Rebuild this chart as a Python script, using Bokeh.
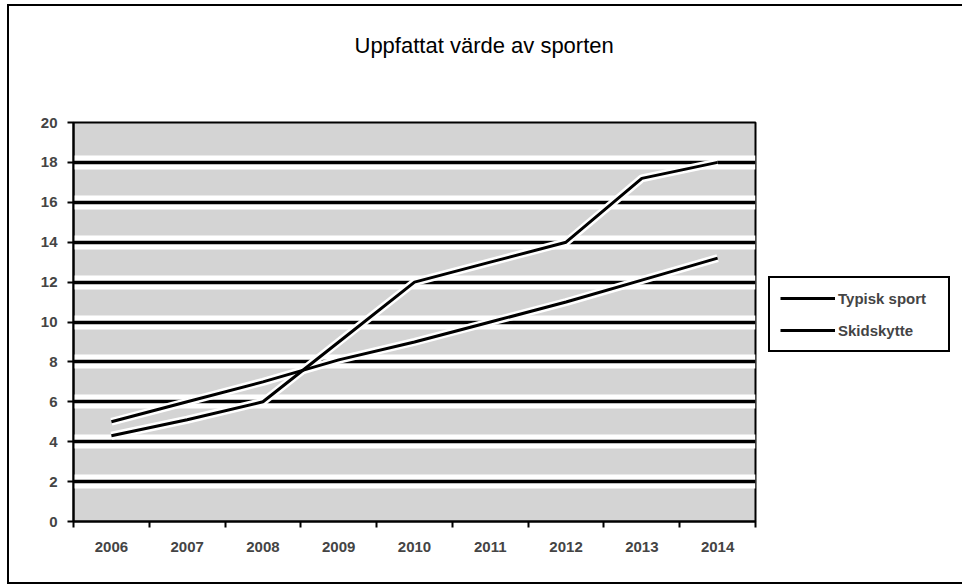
from bokeh.plotting import figure
from bokeh.embed import file_html
from bokeh.resources import INLINE
from bokeh.models import Range1d, FixedTicker, SingleIntervalTicker, Grid, Legend, LegendItem, Title

# ---- data ----
years = [2006, 2007, 2008, 2009, 2010, 2011, 2012, 2013, 2014]
typisk_sport = [5.0, 6.0, 7.0, 8.1, 9.0, 10.0, 11.0, 12.1, 13.2]
skidskytte = [4.3, 5.1, 6.0, 9.0, 12.0, 13.0, 14.0, 17.2, 18.0]
y_min, y_max, y_step = 0, 20, 2
title_text = "Uppfattat värde av sporten"
series_names = ["Typisk sport", "Skidskytte"]

FONT = "Liberation Sans"

p = figure(
    frame_width=682, frame_height=399,
    x_range=Range1d(years[0] - 0.5, years[-1] + 0.5),
    y_range=Range1d(y_min, y_max),
    output_backend="svg", toolbar_location=None,
    min_border_left=64, min_border_right=198,
    min_border_top=116, min_border_bottom=61,
)
p.styles = {"border": "2px solid black", "margin": "4px 0px 0px 7px"}
p.background_fill_color = "#d4d4d4"
p.border_fill_color = "white"
p.outline_line_color = "black"
p.outline_line_width = 2

# title (a blank spacer title sits between the real title and the frame)
p.title.visible = False
spacer = Title(text=" ", text_font=FONT, text_font_size="22px", standoff=16)
p.add_layout(spacer, "above")
t = Title(text=title_text, align="left", text_font=FONT,
          text_font_size="22px", text_font_style="normal", text_color="black",
          standoff=44, offset=281)
p.add_layout(t, "above")

# y axis
yticker = SingleIntervalTicker(interval=y_step, num_minor_ticks=0)
p.yaxis.ticker = yticker
p.yaxis.axis_line_width = 2
p.yaxis.axis_line_color = "black"
p.yaxis.major_tick_line_width = 2
p.yaxis.major_tick_out = 6
p.yaxis.major_tick_in = 0
p.yaxis.minor_tick_line_color = None
p.yaxis.major_label_text_font = FONT
p.yaxis.major_label_text_font_size = "15px"
p.yaxis.major_label_text_font_style = "bold"
p.yaxis.major_label_standoff = 10

# x axis: labels at category centres, ticks at boundaries
xticker = FixedTicker(ticks=years, minor_ticks=[y - 0.5 for y in years] + [years[-1] + 0.5])
p.xaxis.ticker = xticker
p.xaxis.axis_line_width = 2
p.xaxis.axis_line_color = "black"
p.xaxis.major_tick_line_color = None
p.xaxis.minor_tick_line_color = "black"
p.xaxis.minor_tick_line_width = 2
p.xaxis.minor_tick_out = 6
p.xaxis.minor_tick_in = 0
p.xaxis.major_label_text_font = FONT
p.xaxis.major_label_text_font_size = "15px"
p.xaxis.major_label_text_font_style = "bold"
p.xaxis.major_label_standoff = 14

# grid: white halo + thick black line
p.xgrid.grid_line_color = None
p.ygrid.ticker = yticker
p.ygrid.grid_line_color = "white"
p.ygrid.grid_line_width = 14
g2 = Grid(dimension=1, ticker=yticker, grid_line_color="black", grid_line_width=3.5)
p.add_layout(g2)

# series (white halo under black line)
p.line(years, typisk_sport, line_color="white", line_width=8)
p.line(years, skidskytte, line_color="white", line_width=8)
r1 = p.line(years, typisk_sport, line_color="black", line_width=3)
r2 = p.line(years, skidskytte, line_color="black", line_width=3)

legend = Legend(items=[LegendItem(label=series_names[0], renderers=[r1]),
                       LegendItem(label=series_names[1], renderers=[r2])],
                location=(13, 169), margin=0, padding=10, spacing=12,
                glyph_width=55, glyph_height=20, label_standoff=3, label_width=100,
                border_line_color="black", border_line_width=2, border_line_alpha=1,
                background_fill_color="white", background_fill_alpha=1,
                label_text_font=FONT, label_text_font_size="15px",
                label_text_font_style="bold")
p.add_layout(legend, "right")

open("out.html", "w").write(file_html(p, INLINE))
